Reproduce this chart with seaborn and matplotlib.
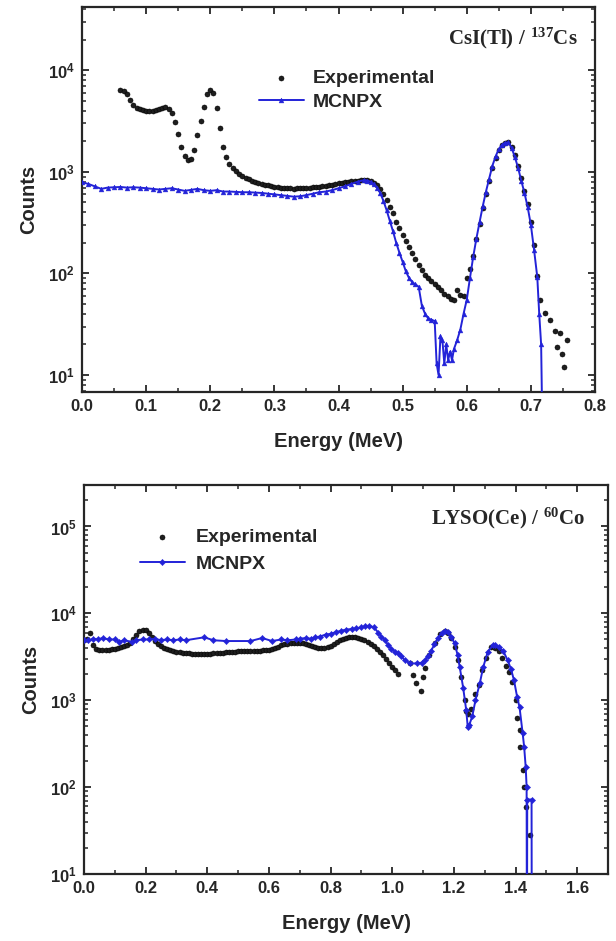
import math
import matplotlib
matplotlib.use("Agg")
import matplotlib.pyplot as plt
import pandas as pd
import seaborn as sns
from matplotlib.ticker import LogLocator, MultipleLocator, FuncFormatter, NullFormatter

# ---------------- CsI(Tl) / 137Cs spectrum ----------------
cs_exp_energy = [
    0.060, 0.065, 0.070, 0.075, 0.080, 0.085, 0.090, 0.095, 0.100, 0.105,
    0.110, 0.115, 0.120, 0.125, 0.130, 0.135, 0.140, 0.145, 0.150, 0.155,
    0.160, 0.165, 0.170, 0.175, 0.180, 0.185, 0.190, 0.195, 0.200, 0.205,
    0.210, 0.215, 0.220, 0.225, 0.230, 0.235, 0.240, 0.245, 0.250, 0.255,
    0.260, 0.265, 0.270, 0.275, 0.280, 0.285, 0.290, 0.295, 0.300, 0.305,
    0.310, 0.315, 0.320, 0.325, 0.330, 0.335, 0.340, 0.345, 0.350, 0.355,
    0.360, 0.365, 0.370, 0.375, 0.380, 0.385, 0.390, 0.395, 0.400, 0.405,
    0.410, 0.415, 0.420, 0.425, 0.430, 0.435, 0.440, 0.445, 0.450, 0.455,
    0.460, 0.465, 0.470, 0.475, 0.480, 0.485, 0.490, 0.495, 0.500, 0.505,
    0.510, 0.515, 0.520, 0.525, 0.530, 0.535, 0.540, 0.545, 0.550, 0.555,
    0.560, 0.565, 0.570, 0.575, 0.580, 0.585, 0.590, 0.595, 0.600, 0.605,
    0.610, 0.615, 0.620, 0.625, 0.630, 0.635, 0.640, 0.645, 0.650, 0.655,
    0.660, 0.665, 0.670, 0.675, 0.680, 0.685, 0.690, 0.695, 0.700, 0.705,
    0.710, 0.715, 0.722, 0.730, 0.738, 0.741, 0.746, 0.749, 0.752, 0.756,
]
cs_exp_counts = [
    6400, 6300, 5800, 5100, 4600, 4300, 4150, 4050, 4000, 3950,
    4000, 4100, 4200, 4300, 4350, 4200, 3800, 3100, 2350, 1750,
    1420, 1300, 1330, 1650, 2300, 3200, 4400, 5900, 6400, 6000,
    4300, 2700, 1750, 1400, 1200, 1080, 1010, 960, 920, 880,
    850, 820, 800, 780, 760, 750, 735, 725, 715, 710,
    700, 700, 690, 690, 685, 690, 690, 695, 700, 700,
    705, 710, 715, 720, 730, 740, 750, 760, 770, 780,
    790, 800, 810, 815, 820, 825, 830, 825, 810, 780,
    740, 680, 600, 530, 450, 390, 320, 280, 240, 210,
    180, 158, 138, 120, 108, 97, 90, 84, 78, 73,
    68, 63, 60, 56, 55, 68, 62, 60, 90, 110,
    150, 220, 310, 440, 610, 820, 1100, 1380, 1640, 1820,
    1930, 1950, 1750, 1450, 1150, 870, 650, 480, 320, 190,
    95, 55, 41, 35, 27, 19, 26, 16, 12, 22,
]
cs_sim_energy = [
    0.00, 0.01, 0.02, 0.03, 0.04, 0.05, 0.06, 0.07, 0.08, 0.09,
    0.10, 0.11, 0.12, 0.13, 0.14, 0.15, 0.16, 0.17, 0.18, 0.19,
    0.20, 0.21, 0.22, 0.23, 0.24, 0.25, 0.26, 0.27, 0.28, 0.29,
    0.30, 0.31, 0.32, 0.33, 0.34, 0.35, 0.36, 0.37, 0.38, 0.39,
    0.40, 0.41, 0.42, 0.43, 0.44, 0.445, 0.450, 0.455, 0.460, 0.465,
    0.470, 0.475, 0.480, 0.485, 0.490, 0.495, 0.500, 0.505, 0.510, 0.515,
    0.520, 0.525, 0.530, 0.535, 0.540, 0.545, 0.550, 0.553, 0.556, 0.559,
    0.562, 0.565, 0.568, 0.571, 0.574, 0.577, 0.580, 0.585, 0.590, 0.595,
    0.600, 0.605, 0.610, 0.615, 0.620, 0.625, 0.630, 0.635, 0.640, 0.645,
    0.650, 0.655, 0.660, 0.665, 0.670, 0.675, 0.680, 0.685, 0.690, 0.695,
    0.700, 0.705, 0.710, 0.713, 0.716, 0.719,
]
cs_sim_counts = [
    790, 760, 720, 680, 700, 705, 710, 700, 705, 700,
    690, 680, 670, 680, 690, 670, 650, 665, 680, 660,
    650, 660, 640, 640, 635, 630, 630, 625, 620, 610,
    600, 590, 580, 570, 575, 590, 610, 630, 640, 660,
    690, 720, 760, 800, 830, 820, 800, 760, 700, 620,
    520, 420, 330, 260, 200, 160, 130, 105, 90, 82,
    78, 74, 48, 40, 36, 35, 34, 13, 10, 24,
    22, 13, 20, 14, 17, 14, 18, 22, 28, 40,
    55, 90, 145, 220, 320, 460, 640, 860, 1150, 1420,
    1680, 1850, 1940, 1950, 1720, 1400, 1100, 820, 620, 450,
    300, 170, 92, 40, 20, 1,
]

# ---------------- LYSO(Ce) / 60Co spectrum ----------------
co_exp_energy = [
    0.00, 0.01, 0.02, 0.03, 0.04, 0.05, 0.06, 0.07, 0.08, 0.09,
    0.10, 0.11, 0.12, 0.13, 0.14, 0.15, 0.16, 0.17, 0.18, 0.19,
    0.20, 0.21, 0.22, 0.23, 0.24, 0.25, 0.26, 0.27, 0.28, 0.29,
    0.30, 0.31, 0.32, 0.33, 0.34, 0.35, 0.36, 0.37, 0.38, 0.39,
    0.40, 0.41, 0.42, 0.43, 0.44, 0.45, 0.46, 0.47, 0.48, 0.49,
    0.50, 0.51, 0.52, 0.53, 0.54, 0.55, 0.56, 0.57, 0.58, 0.59,
    0.60, 0.61, 0.62, 0.63, 0.64, 0.65, 0.66, 0.67, 0.68, 0.69,
    0.70, 0.71, 0.72, 0.73, 0.74, 0.75, 0.76, 0.77, 0.78, 0.79,
    0.80, 0.81, 0.82, 0.83, 0.84, 0.85, 0.86, 0.87, 0.88, 0.89,
    0.90, 0.91, 0.92, 0.93, 0.94, 0.95, 0.96, 0.97, 0.98, 0.99,
    1.00, 1.01, 1.02,
    1.058, 1.068, 1.077, 1.094, 1.100, 1.106, 1.120, 1.138, 1.155, 1.170,
    1.180, 1.190, 1.203, 1.213, 1.223, 1.235, 1.240, 1.245, 1.255, 1.270,
    1.280, 1.290, 1.305, 1.320, 1.335, 1.345, 1.357, 1.370, 1.380, 1.390,
    1.400, 1.406, 1.413, 1.416, 1.423, 1.428, 1.433, 1.448,
]
co_exp_counts = [
    4900, 5100, 6000, 4300, 3900, 3800, 3750, 3750, 3800, 3850,
    3900, 3950, 4050, 4200, 4300, 4500, 5000, 5600, 6200, 6500,
    6400, 5900, 5300, 4800, 4400, 4200, 4000, 3900, 3800, 3700,
    3600, 3550, 3500, 3480, 3450, 3420, 3400, 3400, 3400, 3400,
    3400, 3420, 3450, 3480, 3500, 3520, 3550, 3580, 3600, 3620,
    3650, 3680, 3700, 3700, 3700, 3700, 3700, 3720, 3750, 3780,
    3800, 3900, 4000, 4150, 4300, 4400, 4450, 4500, 4500, 4550,
    4550, 4500, 4450, 4300, 4200, 4100, 4000, 3950, 3950, 4050,
    4200, 4450, 4700, 4900, 5100, 5200, 5300, 5300, 5300, 5200,
    5100, 4900, 4700, 4450, 4200, 3900, 3600, 3300, 3000, 2700,
    2400, 2200, 2000,
    2650, 1950, 1560, 1270, 1830, 2330, 3300, 4500, 5800, 6300,
    6000, 5200, 4100, 2900, 1840, 1000, 750, 690, 800, 1170,
    1500, 2200, 3100, 4100, 4000, 3700, 3100, 2500, 2100, 1600,
    1000, 630, 450, 290, 157, 100, 59, 28,
]
co_sim_energy = [
    0.000, 0.013, 0.030, 0.045, 0.061, 0.080, 0.100, 0.115, 0.130, 0.155,
    0.170, 0.190, 0.210, 0.229, 0.250, 0.268, 0.290, 0.310, 0.330, 0.390,
    0.420, 0.460, 0.540, 0.578, 0.610, 0.640, 0.660, 0.687, 0.700, 0.720,
    0.735, 0.750, 0.765, 0.784, 0.800, 0.819, 0.835, 0.850, 0.868, 0.883,
    0.900, 0.913, 0.925, 0.940, 0.955, 0.965, 0.977, 0.987, 0.997, 1.010,
    1.020, 1.030, 1.040, 1.058, 1.080, 1.095, 1.106, 1.116, 1.126, 1.137,
    1.148, 1.160, 1.170, 1.180, 1.190, 1.203, 1.212, 1.219, 1.230, 1.240,
    1.245, 1.250, 1.260, 1.270, 1.284, 1.295, 1.310, 1.326, 1.335, 1.345,
    1.360, 1.374, 1.385, 1.395, 1.405, 1.413, 1.423, 1.428, 1.433, 1.436,
    1.437, 1.438, 1.452, 1.453,
]
co_sim_counts = [
    4900, 4900, 5100, 5000, 5200, 5000, 5000, 4700, 4900, 4700,
    4900, 5000, 5000, 5100, 4900, 5000, 4900, 5000, 4900, 5300,
    4900, 4800, 4800, 5200, 4800, 5000, 4900, 5000, 5100, 5200,
    5100, 5300, 5400, 5700, 5800, 6100, 6300, 6500, 6600, 6700,
    6900, 7100, 7200, 6900, 6000, 5400, 4900, 4300, 3900, 3600,
    3500, 3200, 2900, 2650, 2650, 2700, 2900, 3200, 3700, 4400,
    5200, 5900, 6300, 6100, 5400, 4500, 3300, 2400, 1400, 770,
    490, 520, 660, 1000, 1560, 2400, 3600, 4300, 4300, 4100,
    3700, 2900, 2300, 1700, 1100, 830, 420, 290, 170, 100,
    0.5, 72, 72, 0.5,
]

panel_labels = [r"$\mathrm{CsI(Tl)\ /\ ^{137}Cs}$", r"$\mathrm{LYSO(Ce)\ /\ ^{60}Co}$"]
series_names = ["Experimental", "MCNPX"]
x_label = "Energy (MeV)"
y_label = "Counts"

EXP_COLOR = "#1e1e1e"
SIM_COLOR = "#2323d8"

sns.set_style("ticks")
plt.rcParams.update({
    "font.weight": "bold",
    "axes.labelweight": "bold",
    "axes.linewidth": 1.5,
    "mathtext.fontset": "custom",
    "mathtext.bf": "Liberation Sans:bold",
    "mathtext.rm": "Liberation Serif:bold",
    "mathtext.it": "Liberation Serif:bold",
    "xtick.direction": "in",
    "ytick.direction": "in",
    "xtick.top": True,
    "ytick.right": True,
})
plt.rcParams["font.family"] = ["Liberation Sans", "DejaVu Sans"]

W, H = 616, 941
fig = plt.figure(figsize=(W / 100, H / 100), dpi=100)
ax_cs = fig.add_axes([82 / W, 1 - 392 / H, 513 / W, 385 / H])
ax_co = fig.add_axes([84 / W, 1 - 874 / H, 524 / W, 389 / H])


def decade_label(v, pos):
    if v <= 0:
        return ""
    return r"$\mathbf{10^{%d}}$" % int(round(math.log10(v)))


def draw_panel(ax, exp_e, exp_c, sim_e, sim_c, sim_marker, sim_ms, xlim, xmajor, xminor, ylim):
    exp_df = pd.DataFrame({"Energy": exp_e, "Counts": exp_c})
    sim_df = pd.DataFrame({"Energy": sim_e, "Counts": sim_c})
    sns.scatterplot(data=exp_df, x="Energy", y="Counts", ax=ax, color=EXP_COLOR,
                    s=13, edgecolor="#000000", linewidth=0.4,
                    label=series_names[0], zorder=3)
    sns.lineplot(data=sim_df, x="Energy", y="Counts", ax=ax, sort=False, estimator=None,
                 color=SIM_COLOR, linewidth=1.4, marker=sim_marker, markersize=sim_ms,
                 markeredgewidth=0.3, markeredgecolor=SIM_COLOR,
                 label=series_names[1], zorder=4)
    ax.set_yscale("log")
    ax.set_xlim(*xlim)
    ax.set_ylim(*ylim)
    ax.xaxis.set_major_locator(MultipleLocator(xmajor))
    ax.xaxis.set_minor_locator(MultipleLocator(xminor))
    ax.xaxis.set_major_formatter(FuncFormatter(lambda v, p: f"{v:.1f}"))
    ax.yaxis.set_major_locator(LogLocator(base=10, numticks=10))
    ax.yaxis.set_minor_locator(LogLocator(base=10, subs=range(2, 10), numticks=20))
    ax.yaxis.set_major_formatter(FuncFormatter(decade_label))
    ax.yaxis.set_minor_formatter(NullFormatter())
    ax.tick_params(which="major", length=5, width=1.3, labelsize=12, pad=5)
    ax.tick_params(which="minor", length=3, width=1.1)
    for t in ax.get_xticklabels():
        t.set_fontweight("bold")
    ax.set_xlabel(x_label, fontsize=14.5, fontweight="bold", labelpad=13)
    ax.set_ylabel(y_label, fontsize=14.5, fontweight="bold", labelpad=7)
    for sp in ax.spines.values():
        sp.set_linewidth(1.6)
        sp.set_visible(True)


draw_panel(ax_cs, cs_exp_energy, cs_exp_counts, cs_sim_energy, cs_sim_counts,
           "^", 3.5, (0.0, 0.8), 0.1, 0.05, (6.8, 4.2e4))
draw_panel(ax_co, co_exp_energy, co_exp_counts, co_sim_energy, co_sim_counts,
           "D", 3.2, (0.0, 1.7), 0.2, 0.1, (10, 3e5))

# legends
for ax, anchor, hl, tp, ls in [
    (ax_cs, (259 / W, 1 - 69 / H), 2.3, 0.45, 0.35),
    (ax_co, (140 / W, 1 - 528 / H), 2.3, 0.55, 0.5),
]:
    handles, labels = ax.get_legend_handles_labels()
    ax.legend(handles, labels, loc="upper left", bbox_to_anchor=anchor,
              bbox_transform=fig.transFigure, frameon=False, borderpad=0,
              borderaxespad=0, handlelength=hl, handletextpad=tp, labelspacing=ls,
              scatterpoints=1, prop={"family": "Liberation Sans", "weight": "bold", "size": 14})

# source / detector labels
fig.text(578 / W, 1 - 38 / H, panel_labels[0], ha="right", va="center", fontsize=15)
fig.text(585 / W, 1 - 518 / H, panel_labels[1], ha="right", va="center", fontsize=15)

fig.savefig("out.png", dpi=100, facecolor="white")
